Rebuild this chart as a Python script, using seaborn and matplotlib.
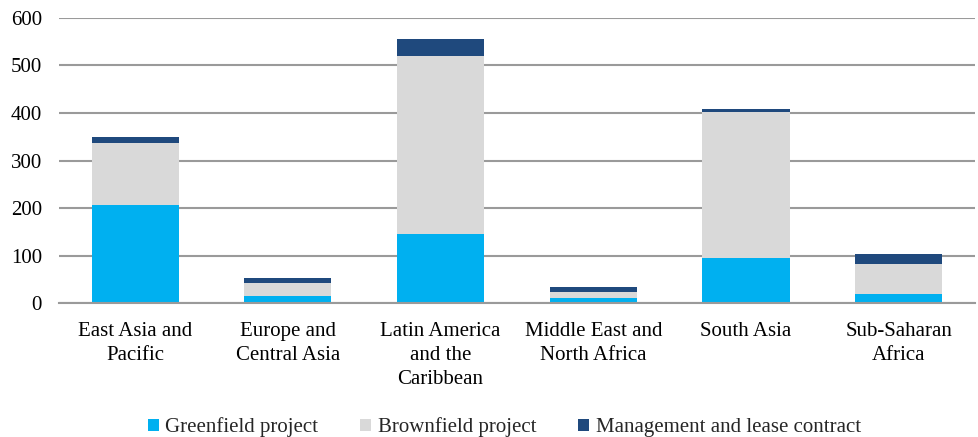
import matplotlib
matplotlib.use("Agg")
import matplotlib.pyplot as plt
import seaborn as sns
import pandas as pd
import numpy as np
from matplotlib.patches import Patch

categories = ["East Asia and\nPacific", "Europe and\nCentral Asia", "Latin America\nand the\nCaribbean",
              "Middle East and\nNorth Africa", "South Asia", "Sub-Saharan\nAfrica"]
greenfield = [207, 15, 146, 12, 96, 19]
brownfield = [129, 28, 374, 13, 306, 64]
management = [14, 10, 36, 9, 7, 21]
series_names = ["Greenfield project", "Brownfield project", "Management and lease contract"]
colors = ["#00B0F0", "#D9D9D9", "#1F497D"]

sns.set_style("white")
plt.rcParams["font.family"] = ["Liberation Serif", "DejaVu Serif"]

df = pd.DataFrame({"cat": categories, "g": greenfield, "b": brownfield, "m": management})
df["gb"] = df["g"] + df["b"]
df["tot"] = df["gb"] + df["m"]

fig = plt.figure(figsize=(9.79, 4.37), dpi=100)
ax = fig.add_axes([0.060, 0.3055, 0.936, 0.654])

for col, c in zip(["tot", "gb", "g"], [colors[2], colors[1], colors[0]]):
    sns.barplot(data=df, x="cat", y=col, color=c, width=0.57, saturation=1,
                ax=ax, edgecolor="none", linewidth=0, zorder=3)

ax.set_ylim(0, 600)
ax.set_xlim(-0.5, 5.5)
ax.set_yticks(np.arange(0, 601, 100))
ax.yaxis.grid(True, color="#9a9a9a", linewidth=1.5, zorder=0)
ax.set_axisbelow(True)
for s in ["top", "right", "left"]:
    ax.spines[s].set_visible(False)
ax.spines["bottom"].set_color("#9a9a9a")
ax.spines["bottom"].set_linewidth(1.5)
ax.spines["bottom"].set_zorder(4)
ax.set_xlabel("")
ax.set_ylabel("")
ax.tick_params(axis="both", length=0, labelsize=15, colors="#000000")
ax.tick_params(axis="y", pad=12)
ax.tick_params(axis="x", pad=13)
for lbl in ax.get_xticklabels():
    lbl.set_linespacing(1.38)

handles = [Patch(facecolor=c, edgecolor="none") for c in colors]
fig.legend(handles, series_names, loc="center", bbox_to_anchor=(0.515, 0.022), ncol=3,
           frameon=False, fontsize=15, handlelength=0.55, handleheight=0.55,
           handletextpad=0.3, columnspacing=2.0)

fig.savefig("out.png", dpi=100)
